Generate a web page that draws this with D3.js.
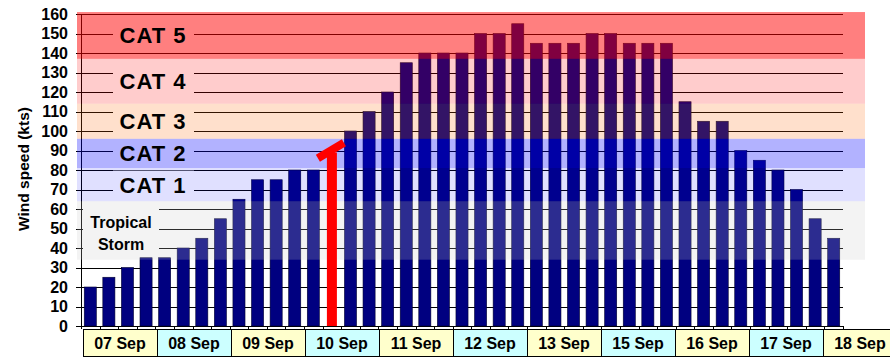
<!DOCTYPE html>
<html>
<head>
<meta charset="utf-8">
<script src="https://cdn.jsdelivr.net/npm/d3@7"></script>
<style>
  html, body { margin: 0; padding: 0; background: #fff; }
  svg { display: block; font-family: Arial, "Liberation Sans", sans-serif; }
</style>
</head>
<body>
<svg id="chart" width="890" height="364"></svg>
<script>
// ---- data ----
const windSpeed = [20,25,30,35,35,40,45,55,65,75,75,80,80,null,100,110,120,135,140,140,
                   140,150,150,155,145,145,145,150,150,145,145,145,115,105,105,90,85,80,70,55,45];
const dayLabels = ["07 Sep","08 Sep","09 Sep","10 Sep","11 Sep","12 Sep","13 Sep","15 Sep","16 Sep","17 Sep","18 Sep"];
const yTicks = [0,10,20,30,40,50,60,70,80,90,100,110,120,130,140,150,160];
const bandNames = ["Tropical Storm","CAT 1","CAT 2","CAT 3","CAT 4","CAT 5"];
const bandLow  = [34, 64, 81, 96, 114, 137];
const bandHigh = [64, 81, 96, 114, 137, 161];
const bandColors = ["rgba(200,200,200,0.22)","rgba(0,0,255,0.12)","rgba(0,0,255,0.3)",
                    "rgba(255,102,0,0.2)","rgba(255,0,0,0.2)","rgba(255,0,0,0.5)"];
const markerIndex = 13;      // slot of the red marker
const markerTop = 90;        // value where red marker line ends
const markerCap = [86, 94];  // diagonal cap from / to values

// ---- layout ----
const svg = d3.select("#chart");
const plotL = 81, plotR = 843, plotT = 14, plotB = 326;

const x = d3.scaleBand().domain(d3.range(windSpeed.length))
  .range([plotL, plotR]).paddingInner(0.35).paddingOuter(0.175);
const y = d3.scaleLinear().domain([0, 160]).range([plotB, plotT]);
const xDay = d3.scaleBand().domain(dayLabels).range([83, 83 + 74 * dayLabels.length]);

// gridlines + y ticks
svg.append("g").selectAll("line").data(yTicks).join("line")
  .attr("x1", 76).attr("x2", plotR)
  .attr("y1", d => Math.round(y(d)) + 0.5).attr("y2", d => Math.round(y(d)) + 0.5)
  .attr("stroke", "#000").attr("stroke-width", 1);

// y axis line
svg.append("line").attr("x1", plotL + 0.5).attr("x2", plotL + 0.5)
  .attr("y1", y(160)).attr("y2", plotB + 3).attr("stroke", "#000");

// x ticks at slot boundaries
const step = x.step();
const bounds = d3.range(windSpeed.length + 1).map(i => plotL + i * step);
svg.append("g").selectAll("line").data(bounds).join("line")
  .attr("x1", d => Math.round(d) + 0.5).attr("x2", d => Math.round(d) + 0.5)
  .attr("y1", plotB).attr("y2", plotB + 3).attr("stroke", "#000");

// y tick labels
svg.append("g").selectAll("text").data(yTicks).join("text")
  .attr("x", 68).attr("y", d => y(d)).attr("dy", "0.35em")
  .attr("text-anchor", "end").attr("font-size", 16).attr("font-weight", "bold")
  .text(d => d);

// axis title
svg.append("text")
  .attr("transform", `translate(28.5,${169}) rotate(-90)`)
  .attr("text-anchor", "middle").attr("font-size", 15.5).attr("font-weight", "bold")
  .text("Wind speed (kts)");

// bars
svg.append("g").selectAll("rect").data(windSpeed.map((v, i) => ({v, i})).filter(d => d.v != null))
  .join("rect")
  .attr("x", d => x(d.i)).attr("width", x.bandwidth())
  .attr("y", d => y(d.v)).attr("height", d => y(0) - y(d.v))
  .attr("fill", "#000080").attr("stroke", "#000030").attr("stroke-width", 0.6);

// label backgrounds (white, tinted by overlay)
const bandCenter = i => y((bandLow[i] + bandHigh[i]) / 2);
svg.append("g").selectAll("rect").data(bandNames.map((n, i) => i)).join("rect")
  .attr("x", i => i === 0 ? 83 : 113)
  .attr("width", i => i === 0 ? 76 : 81)
  .attr("y", i => bandCenter(i) - (i === 0 ? 22 : 14))
  .attr("height", i => i === 0 ? 44 : 28)
  .attr("fill", "#fff");

// category overlays
svg.append("g").selectAll("rect").data(bandNames.map((n, i) => i)).join("rect")
  .attr("x", 77).attr("width", 865 - 77)
  .attr("y", i => y(bandHigh[i])).attr("height", i => y(bandLow[i]) - y(bandHigh[i]))
  .attr("fill", i => bandColors[i]);

// red marker
const mx = x(markerIndex) + x.bandwidth() / 2;
svg.append("line").attr("x1", mx).attr("x2", mx)
  .attr("y1", y(0)).attr("y2", y(markerTop) + 2)
  .attr("stroke", "#ff0000").attr("stroke-width", 10);
svg.append("line")
  .attr("x1", mx - 14).attr("y1", y(markerCap[0]))
  .attr("x2", mx + 12).attr("y2", y(markerCap[1]))
  .attr("stroke", "#ff0000").attr("stroke-width", 8);

// category labels
svg.append("g").selectAll("text").data(bandNames.map((n, i) => i).filter(i => i > 0)).join("text")
  .attr("x", 153).attr("y", i => bandCenter(i)).attr("dy", "0.36em")
  .attr("text-anchor", "middle").attr("font-size", 22).attr("font-weight", "bold")
  .attr("letter-spacing", 1)
  .text(i => bandNames[i]);
const tsWords = bandNames[0].split(" ");
svg.append("g").selectAll("text").data(tsWords).join("text")
  .attr("x", 121).attr("y", (d, k) => bandCenter(0) - 2 + k * 21.5)
  .attr("text-anchor", "middle").attr("font-size", 16).attr("font-weight", "bold")
  .text(d => d);

// day label boxes
const dayG = svg.append("g").selectAll("g").data(dayLabels).join("g");
dayG.append("rect")
  .attr("x", d => xDay(d) + 0.5).attr("y", 329.5)
  .attr("width", xDay.bandwidth()).attr("height", 27)
  .attr("fill", (d, k) => k % 2 === 0 ? "#ffffcc" : "#ccffff")
  .attr("stroke", "#000").attr("stroke-width", 1);
dayG.append("text")
  .attr("x", d => xDay(d) + xDay.bandwidth() / 2).attr("y", 348.5)
  .attr("text-anchor", "middle").attr("font-size", 16).attr("font-weight", "bold")
  .text(d => d);
</script>
</body>
</html>
